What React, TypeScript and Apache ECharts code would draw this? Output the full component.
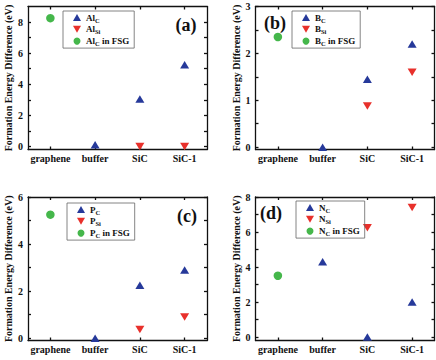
import React, { useEffect, useRef } from 'react';
import * as echarts from 'echarts';

const categories = ['graphene', 'buffer', 'SiC', 'SiC-1'];

// (a) Al
const alC = [null, 0.1, 3.05, 5.25];
const alSi = [null, null, 0, 0];
const alFsg = [8.25, null, null, null];
// (b) B
const bC = [null, 0, 1.45, 2.2];
const bSi = [null, null, 0.88, 1.6];
const bFsg = [2.35, null, null, null];
// (c) P
const pC = [null, 0, 2.25, 2.9];
const pSi = [null, null, 0.37, 0.9];
const pFsg = [5.25, null, null, null];
// (d) N
const nC = [null, 4.3, 0, 2.0];
const nSi = [null, null, 6.25, 7.4];
const nFsg = [3.5, null, null, null];

const panelLabels = ['(a)', '(b)', '(c)', '(d)'];
const elements = ['Al', 'B', 'P', 'N'];
const yMajorTicks = [[0, 2, 4, 6, 8], [0, 1, 2, 3], [0, 2, 4, 6], [0, 2, 4, 6, 8]];
const yMinorTicks = [[1, 3, 5, 7], [0.5, 1.5, 2.5], [1, 3, 5], [1, 3, 5, 7]];
const yMin = [-0.2, -0.05, -0.1, -0.2];
const yMax = [9, 3, 6, 8];
const yName = 'Formation Energy Difference (eV)';

const SERIF = 'Liberation Serif';
const BLUE = '#26399a';
const RED = '#e8302b';
const GREEN = '#45b74b';
const AXIS = '#111';

const gridLeft = [28, 255.5, 28, 255.5];
const gridTop = [6.5, 6.5, 197, 197];
const gridHeight = [143, 143, 143.5, 143.5];
const gridWidth = 179;
const legendPos = [
  [63, 11],
  [292, 11],
  [67, 203],
  [296, 201],
];
const labelPos = [
  [186, 25],
  [275, 23],
  [187, 216],
  [271, 213],
];

function toPairs(vals: (number | null)[]) {
  const out: any[] = [];
  vals.forEach((v, j) => {
    if (v !== null) out.push([categories[j], v]);
  });
  return out;
}

function buildOption() {
  const data = [
    [alC, alSi, alFsg],
    [bC, bSi, bFsg],
    [pC, pSi, pFsg],
    [nC, nSi, nFsg],
  ];
  const grids: any[] = [];
  const xAxes: any[] = [];
  const yAxes: any[] = [];
  const series: any[] = [];
  const legends: any[] = [];
  const graphics: any[] = [];
  const lineStyle = { color: AXIS, width: 1.3 };

  data.forEach((set, i) => {
    grids.push({ left: gridLeft[i], top: gridTop[i], width: gridWidth, height: gridHeight[i] });
    const xi = xAxes.length;
    xAxes.push({
      type: 'category',
      gridIndex: i,
      data: categories,
      position: 'bottom',
      boundaryGap: true,
      axisLine: { show: true, onZero: false, lineStyle },
      axisTick: { show: true, inside: true, alignWithLabel: true, length: 3, lineStyle, interval: 0 },
      axisLabel: {
        interval: 0,
        margin: 4,
        fontFamily: SERIF,
        fontSize: 10,
        fontWeight: 'bold',
        color: '#111',
      },
      splitLine: { show: false },
    });
    xAxes.push({
      type: 'category',
      gridIndex: i,
      data: categories,
      position: 'top',
      boundaryGap: true,
      axisLine: { show: true, onZero: false, lineStyle },
      axisTick: { show: true, inside: true, alignWithLabel: true, length: 3, lineStyle, interval: 0 },
      axisLabel: { show: false, interval: 0 },
      splitLine: { show: false },
    });
    const yi = yAxes.length;
    const allTicks = [...yMajorTicks[i], ...yMinorTicks[i]].sort((a, b) => a - b);
    yAxes.push({
      type: 'value',
      gridIndex: i,
      position: 'left',
      min: yMin[i],
      max: yMax[i],
      name: yName,
      nameLocation: 'middle',
      nameRotate: 90,
      nameGap: 14.5,
      nameTextStyle: { fontFamily: SERIF, fontSize: 10, fontWeight: 'bold', color: '#111' },
      axisLine: { show: true, onZero: false, lineStyle },
      axisTick: { show: true, inside: true, length: 3, lineStyle, customValues: allTicks },
      axisLabel: {
        customValues: yMajorTicks[i],
        margin: 5,
        fontFamily: SERIF,
        fontSize: 10,
        fontWeight: 'bold',
        color: '#111',
      },
      splitLine: { show: false },
    });
    yAxes.push({
      type: 'value',
      gridIndex: i,
      position: 'right',
      min: yMin[i],
      max: yMax[i],
      axisLine: { show: true, onZero: false, lineStyle },
      axisTick: { show: true, inside: true, length: 3, lineStyle, customValues: allTicks },
      axisLabel: { show: false },
      splitLine: { show: false },
    });

    const el = elements[i];
    const names = [`${el}_C`, `${el}_Si`, `${el}_C in FSG`];
    const colors = [BLUE, RED, GREEN];
    set.forEach((vals, k) => {
      series.push({
        type: 'scatter',
        name: names[k],
        xAxisIndex: xi,
        yAxisIndex: yi,
        data: toPairs(vals),
        symbol: k === 2 ? 'circle' : 'triangle',
        symbolRotate: k === 1 ? 180 : 0,
        symbolSize: k === 2 ? 8.5 : [9, 7.5],
        itemStyle: { color: colors[k], opacity: 1 },
        z: 3,
      });
    });

    legends.push({
      orient: 'vertical',
      left: legendPos[i][0],
      top: legendPos[i][1],
      padding: [2, 5, 1, 10],
      itemGap: 1.3,
      itemWidth: 8,
      itemHeight: 7,
      borderColor: '#666',
      borderWidth: 0.8,
      selectedMode: false,
      data: [
        { name: names[0], icon: 'triangle' },
        { name: names[1], icon: 'path://M0,0L10,0L5,8.66Z' },
        { name: names[2], icon: 'circle' },
      ],
      formatter: (name: string) => {
        const [base, rest] = name.split('_');
        const sub = rest.split(' ')[0];
        const suffix = rest.slice(sub.length);
        return `{b|${base}}{s|${sub}}` + (suffix ? `{b|${suffix}}` : '');
      },
      textStyle: {
        fontFamily: SERIF,
        rich: {
          b: {
            fontFamily: SERIF,
            fontSize: 9,
            fontWeight: 'bold',
            color: '#111',
            lineHeight: 12,
            verticalAlign: 'middle',
          },
          s: {
            fontFamily: SERIF,
            fontSize: 6.5,
            fontWeight: 'bold',
            color: '#111',
            lineHeight: 7,
            verticalAlign: 'bottom',
          },
        },
      },
    });

    graphics.push({
      type: 'text',
      x: labelPos[i][0],
      y: labelPos[i][1],
      style: {
        text: panelLabels[i],
        fontFamily: SERIF,
        fontSize: 18,
        fontWeight: 'bold',
        fill: '#111',
        align: 'center',
        verticalAlign: 'middle',
      },
      z: 10,
    });
  });

  return {
    animation: false,
    backgroundColor: '#fff',
    textStyle: { fontFamily: SERIF },
    grid: grids,
    xAxis: xAxes,
    yAxis: yAxes,
    series,
    legend: legends,
    graphic: graphics,
  };
}

export default function App() {
  const ref = useRef<HTMLDivElement>(null);
  useEffect(() => {
    if (!ref.current) return;
    const chart = echarts.init(ref.current, undefined, { renderer: 'svg' });
    chart.setOption(buildOption() as any);
    return () => chart.dispose();
  }, []);
  return (
    <div
      ref={ref}
      style={{ position: 'fixed', left: 0, top: 0, width: 436, height: 360 }}
    />
  );
}
